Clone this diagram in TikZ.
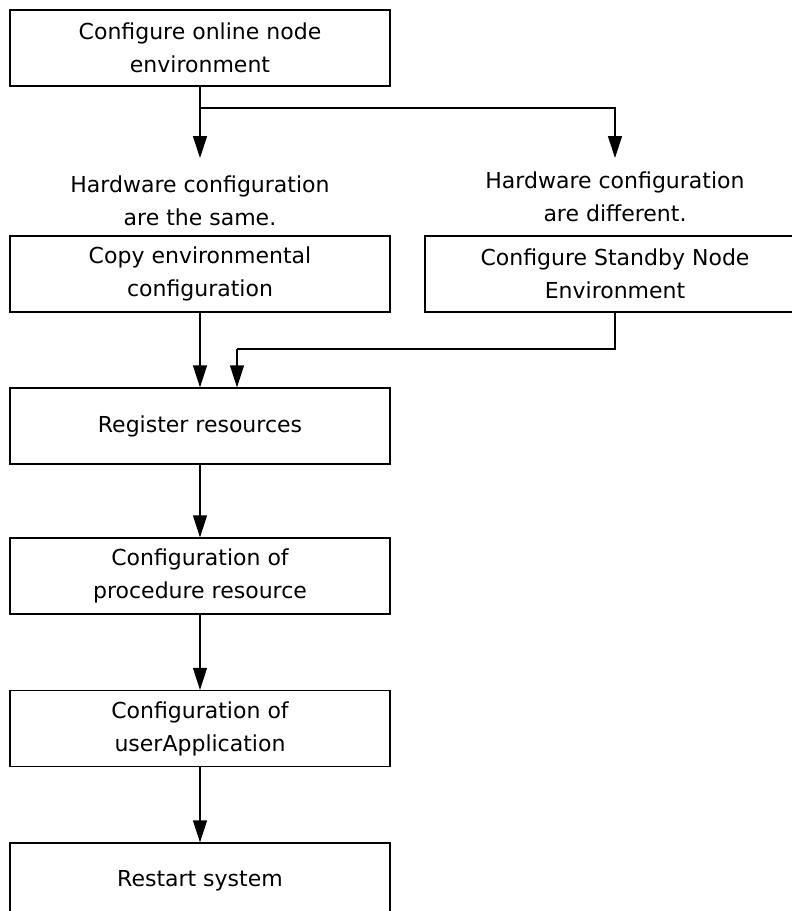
\documentclass[tikz,border=0pt]{standalone}
\usepackage{fontspec}
\setmainfont{DejaVu Sans}
\usetikzlibrary{arrows.meta}
\begin{document}
\begin{tikzpicture}[x=1pt,y=-1pt,
  box/.style={draw,line width=1.3pt,minimum width=380pt,minimum height=76pt,inner sep=0pt,align=center,font=\fontsize{22}{33}\selectfont},
  lbl/.style={inner sep=0pt,align=center,font=\fontsize{22}{33}\selectfont},
  conn/.style={line width=1.3pt},
  arr/.style={line width=1.3pt,-{Triangle[length=22pt,width=14pt]}}]
\useasboundingbox (0,0) rectangle (792,911);
\clip (0,0) rectangle (792,911);
\node[box] (b1) at (200,48) {Configure online node\\environment};
\node[lbl] (same) at (200,201) {Hardware configuration\\are the same.};
\node[lbl] (diff) at (615,197) {Hardware configuration\\are different.};
\node[box] (copy) at (200,274) {Copy environmental\\configuration};
\node[box] (stby) at (615,274) {Configure Standby Node\\Environment};
\node[box] (reg) at (200,426) {Register resources};
\node[box] (proc) at (200,576) {Configuration of\\procedure resource};
\node[box] (uapp) at (200,728.5) {Configuration of\\userApplication};
\node[box] (rest) at (200,881) {Restart system};
\coordinate (br) at (200,108);
\coordinate (t1) at (200,158);
\coordinate (t2) at (615,158);
\coordinate (k1) at (615,349);
\coordinate (k2) at (237,349);
\draw[arr] (b1.south) -- (t1);
\draw[arr] (br) -| (t2);
\draw[arr] (copy.south) -- (reg.north);
\draw[conn] (stby.south) -- (k1) -- (k2);
\draw[arr] (k2) -- (k2 |- reg.north);
\draw[arr] (reg.south) -- (proc.north);
\draw[arr] (proc.south) -- (uapp.north);
\draw[arr] (uapp.south) -- (rest.north);
\end{tikzpicture}
\end{document}
